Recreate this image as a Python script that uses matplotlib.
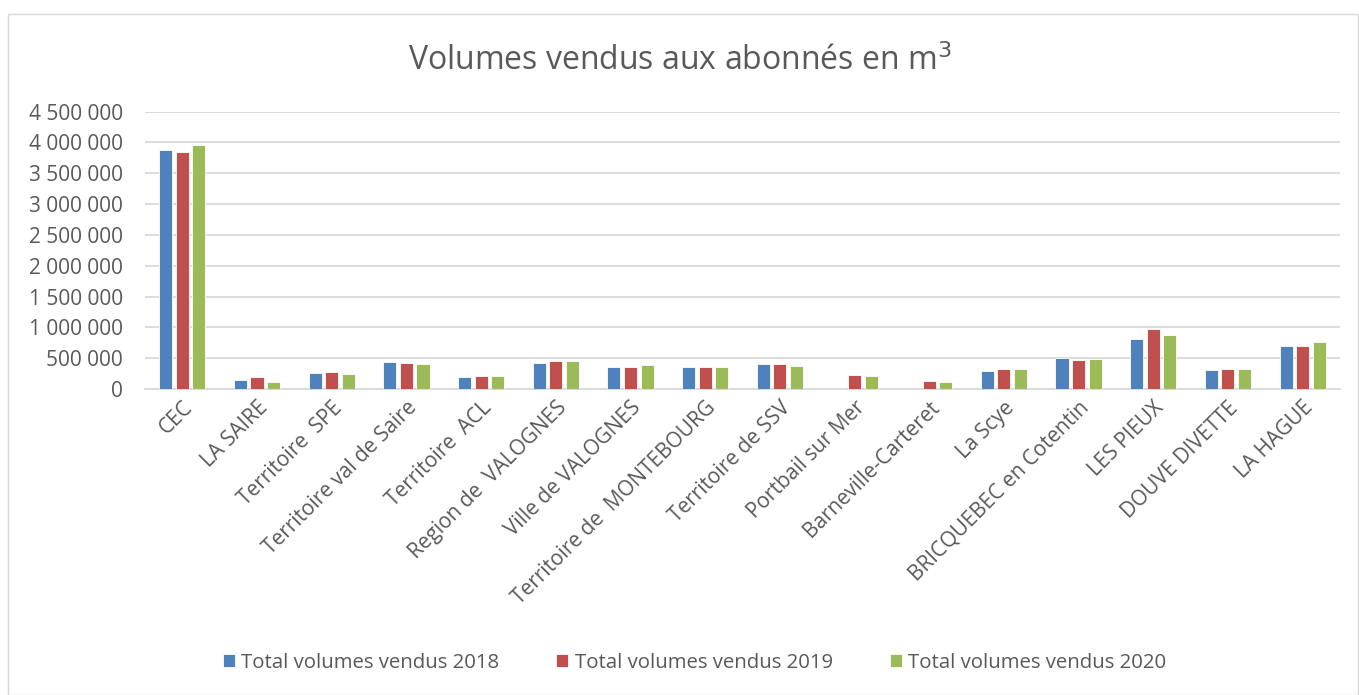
import numpy as np
import matplotlib
matplotlib.use("Agg")
import matplotlib.pyplot as plt
from matplotlib.patches import Rectangle
from matplotlib.ticker import FuncFormatter

plt.rcParams['font.family'] = ['Open Sans', 'DejaVu Sans']

categories = ['CEC', 'LA SAIRE', 'Territoire  SPE', 'Territoire val de Saire',
              'Territoire  ACL', 'Region de  VALOGNES', 'Ville de VALOGNES',
              'Territoire de  MONTEBOURG', 'Territoire de SSV', 'Portbail sur Mer',
              'Barneville-Carteret', 'La Scye', 'BRICQUEBEC en Cotentin',
              'LES PIEUX', 'DOUVE DIVETTE', 'LA HAGUE']

vol_2018 = [3886000, 151000, 255000, 439000, 190000, 418000, 352000, 352000,
            401000, 0, 0, 298000, 504000, 813000, 309000, 699000]
vol_2019 = [3850000, 190000, 276000, 428000, 206000, 455000, 352000, 358000,
            401000, 222000, 125000, 325000, 477000, 970000, 320000, 699000]
vol_2020 = [3956000, 119000, 239000, 407000, 211000, 455000, 385000, 362000,
            369000, 206000, 114000, 325000, 483000, 873000, 320000, 759000]

series = [('Total volumes vendus 2018', vol_2018, '#4F81BD'),
          ('Total volumes vendus 2019', vol_2019, '#C0504D'),
          ('Total volumes vendus 2020', vol_2020, '#9BBB59')]

fig = plt.figure(figsize=(13.59, 6.95), dpi=100)
ax = fig.add_axes([0.1067, 0.4403, 0.8793, 0.399])

x = np.arange(len(categories))
width = 0.175
for i, (label, vals, color) in enumerate(series):
    ax.bar(x + (i - 1) * 0.222, vals, width, color=color, label=label,
           edgecolor='white', linewidth=0.6, zorder=3)

ax.set_xlim(-0.5, len(categories) - 0.5)
ax.set_ylim(0, 4500000)
ax.set_yticks(np.arange(0, 4500001, 500000))
ax.yaxis.set_major_formatter(FuncFormatter(lambda v, p: f'{int(v):,}'.replace(',', ' ')))
ax.grid(axis='y', color='#D9D9D9', linewidth=1.3, zorder=0)
for s in ['top', 'right', 'left']:
    ax.spines[s].set_visible(False)
ax.spines['bottom'].set_color('#D9D9D9')
ax.spines['bottom'].set_linewidth(1.3)
ax.tick_params(axis='both', length=0, colors='#595959', labelsize=15)
ax.tick_params(axis='y', pad=16)
ax.set_xticks(x)
ax.set_xticklabels(categories, rotation=45, ha='right', va='top',
                   rotation_mode='anchor')
ax.tick_params(axis='x', pad=6)

fig.text(0.5, 0.912, 'Volumes vendus aux abonnés en m$^3$', ha='center', va='center',
         fontsize=23, color='#595959')

leg = fig.legend(loc='center', bbox_to_anchor=(0.511, 0.046), ncol=3, frameon=False,
                 fontsize=14.7, handlelength=0.6, handleheight=0.6,
                 columnspacing=2.8, handletextpad=0.3)
for t in leg.get_texts():
    t.set_color('#595959')

fig.patches.append(Rectangle((8 / 1359, 0), 1 - 8 / 1359 - 0.0005, 1 - 14 / 695,
                             transform=fig.transFigure, fill=False,
                             edgecolor='#D9D9D9', linewidth=1))

fig.savefig('out.png', dpi=100)
